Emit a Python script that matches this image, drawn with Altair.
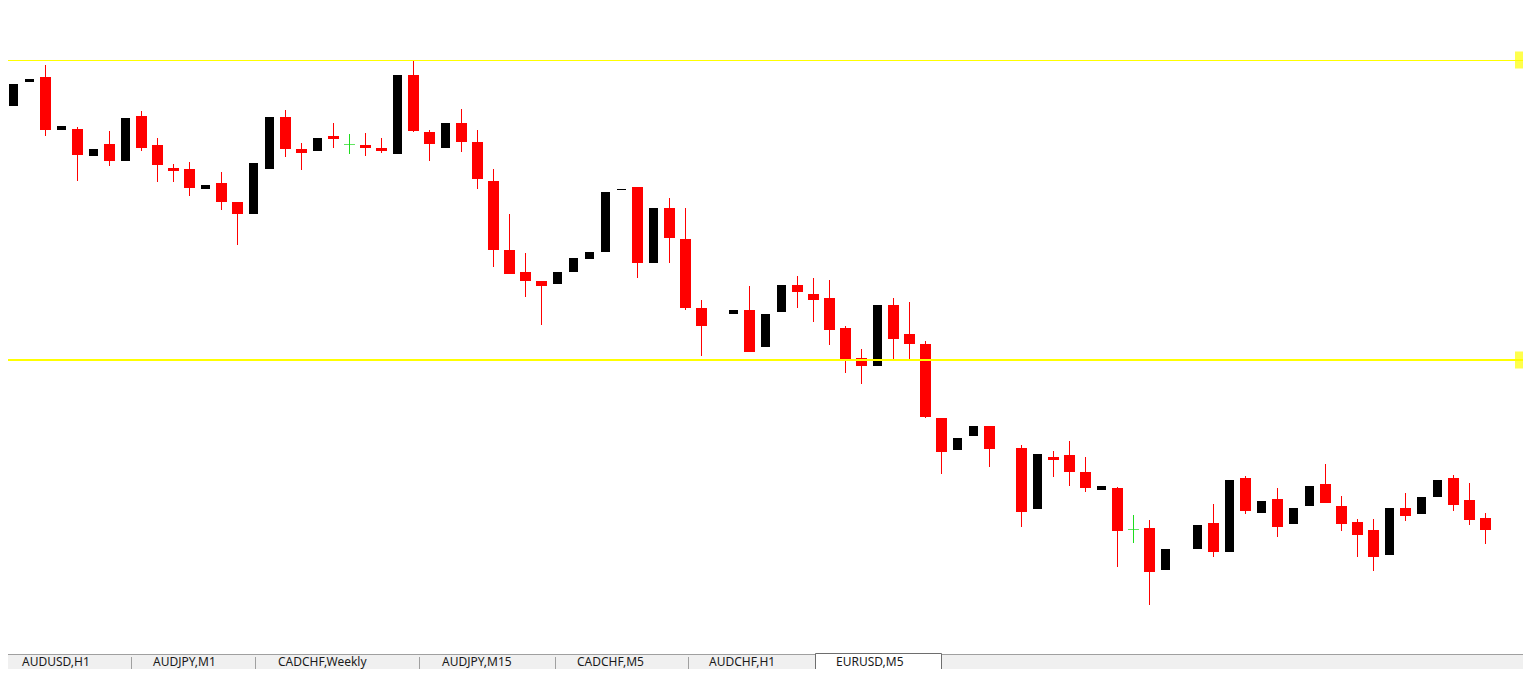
import altair as alt
import pandas as pd
import numpy as np

# ---- candle data (EURUSD, M5) ----
bar_index = [0, 1, 2, 3, 4, 5, 6, 7, 8, 9, 10, 11, 12, 13, 14, 15, 16, 17, 18, 19,
             20, 21, 22, 23, 24, 25, 26, 27, 28, 29, 30, 31, 32, 33, 34, 35, 36, 37, 38, 39,
             40, 41, 42, 43, 45, 46, 47, 48, 49, 50, 51, 52, 53, 54, 55, 56, 57, 58, 59,
             60, 61, 63, 64, 65, 66, 67, 68, 69, 70, 71, 72, 74, 75, 76, 77, 78, 79,
             80, 81, 82, 83, 84, 85, 86, 87, 88, 89, 90, 91, 92]

open_px = [1.09508, 1.09556, 1.09566, 1.09460, 1.09462, 1.09408, 1.09432, 1.09398, 1.09488, 1.09430,
           1.09384, 1.09382, 1.09342, 1.09354, 1.09316, 1.09292, 1.09382, 1.09486, 1.09422, 1.09418,
           1.09448, 1.09432, 1.09430, 1.09424, 1.09412, 1.09570, 1.09456, 1.09424, 1.09474, 1.09436,
           1.09358, 1.09220, 1.09176, 1.09158, 1.09152, 1.09176, 1.09202, 1.09216, 1.09340, 1.09346,
           1.09194, 1.09304, 1.09242, 1.09104, 1.09092, 1.09100, 1.09026, 1.09096, 1.09150, 1.09132,
           1.09124, 1.09064, 1.09004, 1.08988, 1.09110, 1.09052, 1.09032, 1.08884, 1.08820, 1.08848,
           1.08868, 1.08824, 1.08702, 1.08806, 1.08810, 1.08776, 1.08740, 1.08744, 1.08662, 1.08664,
           1.08580, 1.08622, 1.08674, 1.08616, 1.08764, 1.08694, 1.08722, 1.08672, 1.08708, 1.08752,
           1.08708, 1.08676, 1.08660, 1.08610, 1.08704, 1.08692, 1.08726, 1.08764, 1.08720, 1.08684]

high_px = [1.09552, 1.09562, 1.09590, 1.09468, 1.09466, 1.09422, 1.09458, 1.09484, 1.09498, 1.09444,
           1.09392, 1.09396, 1.09350, 1.09376, 1.09316, 1.09394, 1.09486, 1.09500, 1.09434, 1.09444,
           1.09474, 1.09452, 1.09454, 1.09444, 1.09570, 1.09598, 1.09460, 1.09474, 1.09502, 1.09460,
           1.09382, 1.09292, 1.09214, 1.09158, 1.09176, 1.09204, 1.09216, 1.09336, 1.09342, 1.09346,
           1.09304, 1.09324, 1.09304, 1.09120, 1.09100, 1.09148, 1.09092, 1.09150, 1.09168, 1.09164,
           1.09160, 1.09068, 1.09022, 1.09110, 1.09124, 1.09116, 1.09038, 1.08884, 1.08844, 1.08868,
           1.08868, 1.08830, 1.08812, 1.08818, 1.08838, 1.08806, 1.08748, 1.08746, 1.08690, 1.08680,
           1.08622, 1.08670, 1.08712, 1.08760, 1.08768, 1.08718, 1.08744, 1.08704, 1.08748, 1.08792,
           1.08728, 1.08682, 1.08682, 1.08704, 1.08734, 1.08726, 1.08760, 1.08770, 1.08754, 1.08694]

low_px = [1.09508, 1.09556, 1.09448, 1.09460, 1.09358, 1.09408, 1.09388, 1.09398, 1.09418, 1.09356,
          1.09356, 1.09328, 1.09342, 1.09300, 1.09230, 1.09292, 1.09382, 1.09406, 1.09380, 1.09418,
          1.09424, 1.09412, 1.09408, 1.09414, 1.09412, 1.09456, 1.09398, 1.09424, 1.09416, 1.09342,
          1.09186, 1.09172, 1.09126, 1.09070, 1.09152, 1.09176, 1.09202, 1.09216, 1.09340, 1.09164,
          1.09194, 1.09194, 1.09100, 1.09008, 1.09092, 1.09016, 1.09026, 1.09096, 1.09104, 1.09076,
          1.09030, 1.08974, 1.08952, 1.08988, 1.09002, 1.09002, 1.08884, 1.08772, 1.08820, 1.08848,
          1.08786, 1.08666, 1.08702, 1.08766, 1.08748, 1.08736, 1.08740, 1.08586, 1.08634, 1.08510,
          1.08580, 1.08622, 1.08606, 1.08616, 1.08692, 1.08694, 1.08646, 1.08672, 1.08708, 1.08714,
          1.08658, 1.08606, 1.08578, 1.08610, 1.08678, 1.08692, 1.08726, 1.08698, 1.08670, 1.08632]

close_px = [1.09552, 1.09562, 1.09460, 1.09468, 1.09410, 1.09422, 1.09398, 1.09484, 1.09424, 1.09390,
            1.09378, 1.09344, 1.09350, 1.09316, 1.09292, 1.09394, 1.09486, 1.09422, 1.09414, 1.09444,
            1.09442, 1.09432, 1.09424, 1.09418, 1.09570, 1.09458, 1.09432, 1.09474, 1.09436, 1.09362,
            1.09220, 1.09172, 1.09158, 1.09148, 1.09176, 1.09204, 1.09216, 1.09336, 1.09342, 1.09194,
            1.09304, 1.09244, 1.09104, 1.09068, 1.09100, 1.09016, 1.09092, 1.09150, 1.09136, 1.09120,
            1.09060, 1.09000, 1.08988, 1.09110, 1.09042, 1.09032, 1.08886, 1.08816, 1.08844, 1.08868,
            1.08822, 1.08696, 1.08812, 1.08800, 1.08776, 1.08744, 1.08748, 1.08658, 1.08662, 1.08576,
            1.08622, 1.08670, 1.08616, 1.08760, 1.08698, 1.08718, 1.08666, 1.08704, 1.08748, 1.08714,
            1.08672, 1.08650, 1.08606, 1.08704, 1.08688, 1.08726, 1.08760, 1.08710, 1.08680, 1.08660]

# horizontal levels drawn on the chart
level_prices = [1.09600, 1.09000]

# terminal tabs
tab_labels = ["AUDUSD,H1", "AUDJPY,M1", "CADCHF,Weekly", "AUDJPY,M15",
              "CADCHF,M5", "AUDCHF,H1", "EURUSD,M5"]

# ---- layout (pixels, chart coordinates) ----
W, H = 1515, 661
TAB_TOP = 646
tab_text_x = [8, 139, 264, 428, 563, 695, 822]
tab_separators = [123, 247, 411, 547, 680]
active_tab = (807.5, 933.5)

df = pd.DataFrame({"i": bar_index, "open": open_px, "high": high_px,
                   "low": low_px, "close": close_px})
df["kind"] = np.select([df["close"] < df["open"], df["close"] > df["open"]],
                       ["bear", "bull"], "doji")

xs = alt.Scale(domain=[-0.34375, 94.34375], nice=False, zero=False, padding=0)
ys = alt.Scale(domain=[1.08382, 1.09704], nice=False, zero=False, padding=0)
X = alt.X("i:Q", scale=xs, axis=None)

RED = "#FF0000"
GREEN = "#1EDC1E"
YELLOW = "#FFFF00"

base = alt.Chart(df)

red_wicks = base.transform_filter("datum.kind == 'bear'").mark_rule(
    color=RED, strokeWidth=1).encode(
    x=X, y=alt.Y("low:Q", scale=ys, axis=None), y2="high:Q")

red_bodies = base.transform_filter("datum.kind == 'bear'").mark_bar(
    color=RED, size=11).encode(
    x=X, y=alt.Y("open:Q", scale=ys, axis=None), y2="close:Q")

black_bodies = base.transform_filter("datum.kind == 'bull'").mark_bar(
    color="#000000", size=9).encode(
    x=X, y=alt.Y("open:Q", scale=ys, axis=None), y2="close:Q")

doji_wicks = base.transform_filter("datum.kind == 'doji'").mark_rule(
    color=GREEN, strokeWidth=1).encode(
    x=X, y=alt.Y("low:Q", scale=ys, axis=None), y2="high:Q")

doji_ticks = base.transform_filter("datum.kind == 'doji'").mark_tick(
    color=GREEN, orient="horizontal", size=11, thickness=1, yOffset=0.5).encode(
    x=X, y=alt.Y("open:Q", scale=ys, axis=None))

upper_line = alt.Chart(pd.DataFrame({"price": [level_prices[0]]})).mark_rule(
    color=YELLOW, strokeWidth=1, yOffset=0.5).encode(
    y=alt.Y("price:Q", scale=ys, axis=None))
lower_line = alt.Chart(pd.DataFrame({"price": [level_prices[1]]})).mark_rule(
    color=YELLOW, strokeWidth=2).encode(y=alt.Y("price:Q", scale=ys, axis=None))
markers = alt.Chart(pd.DataFrame({"price": level_prices})).mark_tick(
    color=YELLOW, orient="vertical", size=17, thickness=8).encode(
    x=alt.value(W - 4), y=alt.Y("price:Q", scale=ys, axis=None))

one = pd.DataFrame({"a": [0]})
tab_bg = alt.Chart(one).mark_rect(fill="#F0F0F0").encode(
    x=alt.value(0), x2=alt.value(W), y=alt.value(TAB_TOP), y2=alt.value(H))
tab_line = alt.Chart(one).mark_rule(color="#A0A0A0", strokeWidth=1).encode(
    x=alt.value(0), x2=alt.value(W), y=alt.value(TAB_TOP + 0.5))
tab_active = alt.Chart(one).mark_rect(fill="#FFFFFF", stroke="#6E6E6E", strokeWidth=1).encode(
    x=alt.value(active_tab[0]), x2=alt.value(active_tab[1]),
    y=alt.value(TAB_TOP - 0.5), y2=alt.value(H + 10))

layers = [tab_bg, tab_line, tab_active]
for s in tab_separators:
    layers.append(alt.Chart(one).mark_rule(color="#A0A0A0", strokeWidth=1).encode(
        x=alt.value(s + 0.5), y=alt.value(TAB_TOP + 3), y2=alt.value(H)))
for lab, tx in zip(tab_labels, tab_text_x):
    layers.append(alt.Chart(one).mark_text(
        align="left", baseline="alphabetic", font="Noto Sans", fontSize=12,
        color="#1A1A1A").encode(x=alt.value(tx + 6), y=alt.value(TAB_TOP + 12),
                                text=alt.value(lab)))

layers += [red_wicks, red_bodies, black_bodies, doji_wicks, doji_ticks,
           upper_line, lower_line, markers]

chart = alt.layer(*layers).properties(
    width=W, height=H, padding=0,
    autosize=alt.AutoSizeParams(type="none"),
    background="#FFFFFF",
).configure_view(strokeWidth=0)

chart.save("out.html", embed_options={"renderer": "svg", "actions": False})
